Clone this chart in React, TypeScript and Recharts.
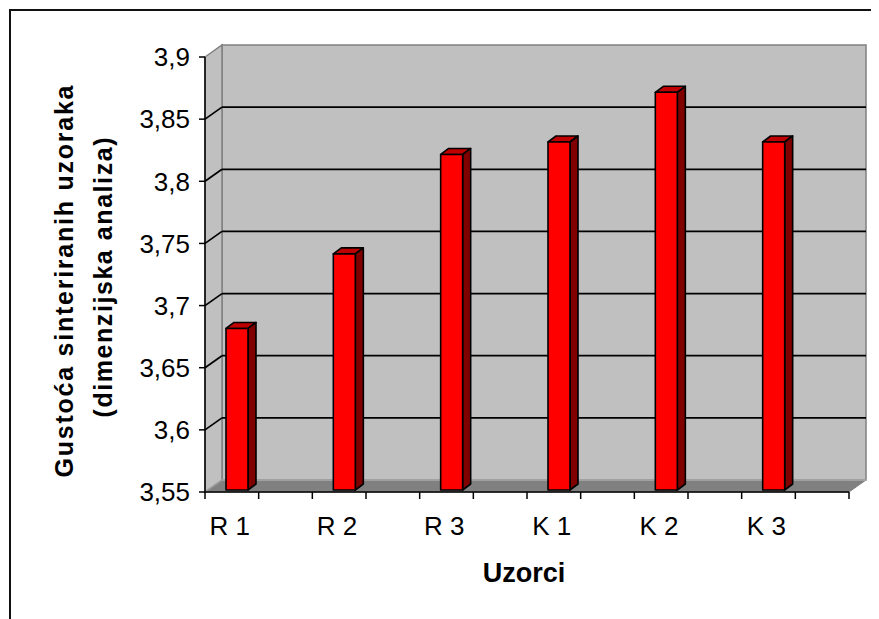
import React from "react"
import {
  Bar,
  BarChart,
  CartesianGrid,
  Label,
  ReferenceArea,
  XAxis,
  YAxis,
} from "recharts"

const categories = ["R 1", "R 2", "R 3", "K 1", "K 2", "K 3"]
const density = [3.68, 3.74, 3.82, 3.83, 3.87, 3.83]
const yTicks = [3.55, 3.6, 3.65, 3.7, 3.75, 3.8, 3.85, 3.9]

const data = categories.map((name, i) => ({ name, value: density[i] }))

const FONT = '"Liberation Sans", Arial, sans-serif'
// depth of the 3d box (walls) and of each column
const DX = 17
const DY = 12
const BAR_DX = 8
const BAR_DY = 6

function Walls(props: any) {
  const { x, y, width: w, height: h } = props
  return (
    <g>
      <rect x={x + DX} y={y - DY} width={w} height={h} fill="#c0c0c0" stroke="#808080" strokeWidth={1.5} />
      <polygon
        points={`${x},${y} ${x + DX},${y - DY} ${x + DX},${y + h - DY} ${x},${y + h}`}
        fill="#c0c0c0"
        stroke="#808080"
        strokeWidth={1.5}
      />
      <polygon
        points={`${x},${y + h} ${x + DX},${y + h - DY} ${x + w + DX},${y + h - DY} ${x + w},${y + h}`}
        fill="#808080"
        stroke="#808080"
      />
      <line x1={x + DX} y1={y + h - DY} x2={x + w + DX} y2={y + h - DY} stroke="#a0a0a0" strokeWidth={2} />
      <line x1={x} y1={y + h} x2={x + DX} y2={y + h - DY} stroke="#a0a0a0" strokeWidth={1.5} />
    </g>
  )
}

function GridLine(p: any) {
  return (
    <g>
      <line x1={p.x1 + DX} y1={p.y1 - DY} x2={p.x2 + DX} y2={p.y2 - DY} stroke="#000" strokeWidth={1.7} />
      <line x1={p.x1} y1={p.y1} x2={p.x1 + DX} y2={p.y1 - DY} stroke="#000" strokeWidth={1.7} />
    </g>
  )
}

function Column(props: any) {
  const { x, y, width: w, height: h } = props
  const X = x - 22
  const Y = y - 2
  return (
    <g stroke="#000" strokeWidth={1.6} strokeLinejoin="round">
      <polygon
        points={`${X},${Y} ${X + w},${Y} ${X + w + BAR_DX},${Y - BAR_DY} ${X + BAR_DX},${Y - BAR_DY}`}
        fill="#bf0000"
      />
      <polygon
        points={`${X + w},${Y} ${X + w + BAR_DX},${Y - BAR_DY} ${X + w + BAR_DX},${Y + h - BAR_DY} ${X + w},${Y + h}`}
        fill="#800000"
      />
      <rect x={X} y={Y} width={w} height={h} fill="#ff0000" />
    </g>
  )
}

function CategoryTick(props: any) {
  const { x, y, payload, index, width } = props
  const band = (width || 644) / categories.length
  const last = index === categories.length - 1
  return (
    <g>
      <line x1={x - band / 2} y1={y - 7} x2={x - band / 2} y2={y} stroke="#000" strokeWidth={1.5} />
      {last && <line x1={x + band / 2} y1={y - 7} x2={x + band / 2} y2={y} stroke="#000" strokeWidth={1.5} />}
      <text x={x - 29} y={y + 36} textAnchor="middle" fontSize={26} fontFamily={FONT} fill="#000">
        {payload.value}
      </text>
    </g>
  )
}

function YTitle(props: any) {
  const vb = props.viewBox || { x: 0, y: 49, width: 197, height: 435 }
  const cy = vb.y + vb.height / 2 + 3
  const x1 = vb.x + 65
  const x2 = vb.x + 104
  return (
    <g fontFamily={FONT} fontWeight="bold" fontSize={25} fill="#000">
      <text x={x1} y={cy + 4} textAnchor="middle" transform={`rotate(-90, ${x1}, ${cy + 4})`} textLength={392} lengthAdjust="spacing">
        Gustoća sinteriranih uzoraka
      </text>
      <text x={x2} y={cy} textAnchor="middle" transform={`rotate(-90, ${x2}, ${cy})`} textLength={280} lengthAdjust="spacing">
        (dimenzijska analiza)
      </text>
    </g>
  )
}

function XTitle(props: any) {
  const vb = props.viewBox || { x: 197, y: 484, width: 644, height: 100 }
  return (
    <text
      x={vb.x + vb.width / 2 - 3}
      y={vb.y + 90}
      textAnchor="middle"
      fontFamily={FONT}
      fontWeight="bold"
      fontSize={27}
      fill="#000"
    >
      Uzorci
    </text>
  )
}

export default function App() {
  return (
    <div style={{ position: "relative", width: 871, height: 611, overflow: "hidden", background: "#fff" }}>
      <div
        style={{
          position: "absolute",
          left: 1,
          top: 1,
          width: 900,
          height: 700,
          borderTop: "2px solid #111",
          borderLeft: "2px solid #111",
        }}
      />
      <div style={{ position: "absolute", left: 0, top: 0 }}>
        <BarChart
          width={870}
          height={610}
          data={data}
          margin={{ top: 49, right: 29, bottom: 26, left: 0 }}
          style={{ fontFamily: FONT }}
        >
          <ReferenceArea y1={3.55} y2={3.9} ifOverflow="visible" shape={<Walls />} zIndex={-200} />
          <CartesianGrid
            vertical={false}
            horizontal={(p: any) => <GridLine key={p.key} {...p} />}
            horizontalValues={yTicks.slice(1, -1)}
            zIndex={-100}
          />
          <XAxis
            dataKey="name"
            height={100}
            stroke="#000"
            strokeWidth={1.5}
            tickSize={7}
            tickMargin={0}
            tick={<CategoryTick />}
            interval={0}
          >
            <Label content={<XTitle />} />
          </XAxis>
          <YAxis
            width={197}
            domain={[3.55, 3.9]}
            ticks={yTicks}
            interval={0}
            stroke="#000"
            strokeWidth={1.5}
            tickSize={6}
            tickMargin={9}
            tick={{ fill: "#000", fontSize: 26, fontFamily: FONT }}
            tickFormatter={(v: number) => String(v).replace(".", ",")}
          >
            <Label content={<YTitle />} />
          </YAxis>
          <Bar dataKey="value" barSize={22} shape={<Column />} isAnimationActive={false} />
        </BarChart>
      </div>
    </div>
  )
}
